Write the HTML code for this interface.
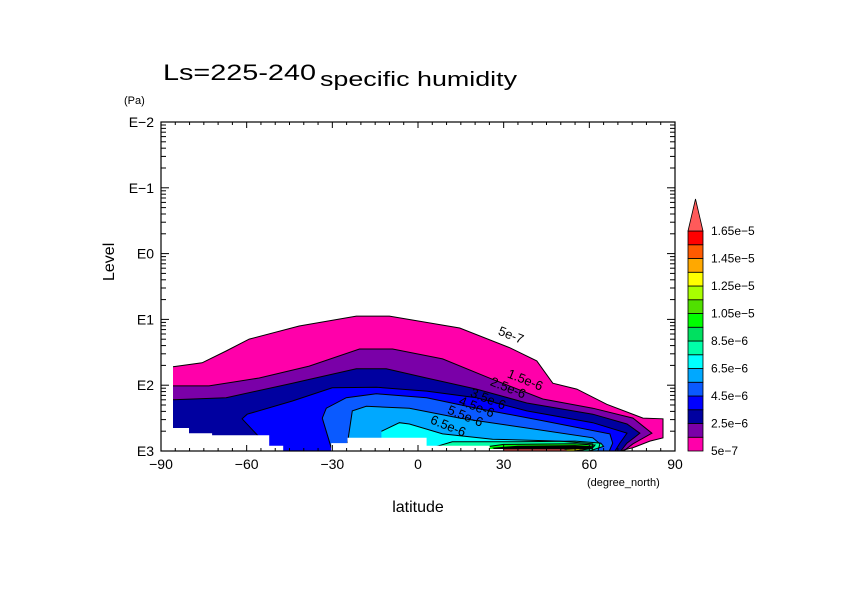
<!DOCTYPE html>
<html><head><meta charset="utf-8"><style>
html,body{margin:0;padding:0;background:#fff;}
svg{display:block;font-family:"Liberation Sans",sans-serif;}
</style></head><body>
<svg id="chart" width="842" height="595" viewBox="0 0 842 595" xmlns="http://www.w3.org/2000/svg">
<rect width="842" height="595" fill="#fff"/>
<text x="163" y="80" font-size="22" fill="#000" textLength="153" lengthAdjust="spacingAndGlyphs">Ls=225-240</text>
<text x="320" y="86" font-size="20" fill="#000" textLength="197" lengthAdjust="spacingAndGlyphs">specific humidity</text>
<text x="124" y="104" font-size="11" fill="#000">(Pa)</text>
<text x="114" y="281" font-size="16" fill="#000" transform="rotate(-90 114 281)">Level</text>
<text x="418" y="512" font-size="16" fill="#000" text-anchor="middle">latitude</text>
<text x="587" y="486" font-size="11" fill="#000">(degree_north)</text>
<g id="fills"></g>
<g id="lines"></g>
<g id="labels"></g>
<g id="axes"></g>
<g id="cbar"></g>
</svg>
<script>
const levels=["5e-7","1.5e-6","2.5e-6","3.5e-6","4.5e-6","5.5e-6","6.5e-6","7.5e-6","8.5e-6","9.5e-6","1.05e-5","1.15e-5","1.25e-5","1.35e-5","1.45e-5","1.55e-5","1.65e-5"];
const colors=["#ff00aa","#7a00a8","#0000a0","#0000ff","#0a5aff","#00a8ff","#00ffff","#00ffa8","#00e060","#00ff00","#50e000","#a8ff00","#ffff00","#ffa800","#ff5a00","#ff0000","#ff5a5a"];
const c0=[[-85.8,1.72],[-75.6,1.66],[-67.2,1.48],[-59.1,1.30],[-41.6,1.10],[-21.6,0.95],[-10,0.95],[14.6,1.13],[32.1,1.43],[41.6,1.63],[47.2,1.97],[55.6,2.06],[66.1,2.29],[78.8,2.50],[85.8,2.51],[85.8,2.80],[81.2,2.85],[75.3,2.95],[70.7,3.0]];
const c1=[[-85.8,2.01],[-73.2,2.01],[-55.6,1.89],[-38.1,1.71],[-20.5,1.45],[-8.9,1.45],[8.6,1.60],[26.1,1.91],[43.7,2.21],[61.2,2.35],[75.3,2.50],[81.9,2.73],[75.3,2.89],[72,3.0]];
const c2=[[-85.8,2.22],[-67.2,2.19],[-44.0,1.97],[-21.6,1.75],[-11.1,1.75],[3.0,1.89],[20.5,2.06],[38.1,2.27],[61.2,2.44],[73.2,2.59],[77.7,2.73],[73.2,2.88],[71,3.0]];
const c3=[[-52.1,2.95],[-61.6,2.51],[-59.8,2.44],[-44.0,2.24],[-30.0,2.04],[-14.6,2.03],[3.0,2.09],[20.5,2.19],[38.1,2.39],[61.2,2.57],[73.2,2.73],[70.7,2.88],[69,3.0]];
const c4=[[-30.4,2.95],[-33.5,2.50],[-32.1,2.35],[-25.1,2.19],[-14.6,2.13],[3.0,2.19],[20.5,2.35],[43.7,2.54],[67.2,2.74],[68.2,2.88],[67,3.0]];
const c5=[[-24.7,2.88],[-23.0,2.39],[-18.1,2.32],[-3.0,2.35],[14.6,2.50],[38.1,2.65],[61.2,2.80],[63.7,2.89],[63,3.0]];
const c6=[[-12.8,2.70],[-6.5,2.57],[-3.0,2.59],[8.6,2.74],[26.1,2.82],[49.6,2.85],[61.2,2.89],[61,3.0]];
const c7=[[5,2.95],[12,2.86],[35,2.86],[55,2.85],[64,2.88],[65,2.93],[60,3.0]];
const c9=[[20,2.96],[30,2.9],[55,2.89],[62,2.91],[61,2.96],[55,3.0]];
const c12=[[52,2.97],[56,2.93],[60,2.94],[58,2.98],[55,3.0]];
const c16=[[25,3.0],[27,2.975],[51,2.975],[53,3.0]];
const contours=[[0,c0],[1,c1],[2,c2],[3,c3],[4,c4],[5,c5],[6,c6],[7,c7],[9,c9],[12,c12]];
const ground=[[-90,2.65],[-80.2,2.65],[-80.2,2.73],[-72.1,2.73],[-72.1,2.76],[-52.1,2.76],[-52.1,2.92],[-47.2,2.92],[-47.2,3.0],[-30.4,3.0],[-30.4,2.88],[-24.7,2.88],[-24.7,2.80],[3.0,2.80],[3.0,2.92],[25.1,2.92],[25.1,2.97],[30,2.97],[30,3.0]];
const darkBand=[[26,2.95],[35,2.92],[55,2.91],[62,2.93],[60,2.97],[52,2.98],[27,2.98]];
const labelVals=[["5e-7",32,1.3],["1.5e-6",37,1.98],["2.5e-6",31,2.1],["3.5e-6",24,2.27],["4.5e-6",20,2.39],["5.5e-6",16,2.53],["6.5e-6",10,2.68]];
const xTicks=[-90,-60,-30,0,30,60,90];
const yTicks=[-2,-1,0,1,2,3];

const X0=161,X1=675,Y0=122,Y1=451;
const xs=lat=>X0+(lat+90)/180*(X1-X0);
const ys=e=>Y0+(e+2)/5*(Y1-Y0);
const NS="http://www.w3.org/2000/svg";
function mk(tag,attrs,parent){const el=document.createElementNS(NS,tag);for(const k in attrs)el.setAttribute(k,attrs[k]);parent.appendChild(el);return el;}
const fills=document.getElementById('fills'),lines=document.getElementById('lines'),labs=document.getElementById('labels'),axes=document.getElementById('axes'),cbar=document.getElementById('cbar');
const pathOf=pts=>pts.map((p,i)=>(i?'L':'M')+xs(p[0]).toFixed(1)+','+ys(p[1]).toFixed(1)).join('');
contours.forEach(([li,pts])=>{
  let d=pathOf(pts);
  const last=pts[pts.length-1],first=pts[0];
  const df=d+'L'+xs(last[0]).toFixed(1)+','+ys(3)+'L'+xs(first[0]).toFixed(1)+','+ys(3)+'Z';
  const f=mk('path',{d:df,fill:colors[li],stroke:'none'},fills);
  
  
  const l=mk('path',{d:d,fill:'none',stroke:'#000','stroke-width':1},lines);
  
  
});
{
  const b=mk('path',{d:pathOf(darkBand)+'Z',fill:'#000'},lines);
  
  
  const r=mk('path',{d:pathOf(c16)+'Z',fill:colors[16]},lines);
  
  
  let d=pathOf(ground)+'L'+xs(30)+','+(Y1+2)+'L'+xs(-90)+','+(Y1+2)+'Z';
  const g=mk('path',{d:d,fill:'#fff'},lines);
  
  
}
labelVals.forEach(([t,lat,e])=>{
  const x=xs(lat),y=ys(e);
  const tx=mk('text',{x:x,y:y,'font-size':13,fill:'#000','text-anchor':'middle',transform:`rotate(22 ${x} ${y})`},labs);
  tx.textContent=t;
  
  
});
const fr=mk('rect',{x:X0,y:Y0,width:X1-X0,height:Y1-Y0,fill:'none',stroke:'#000','stroke-width':1.2},axes);


for(let lat=-90;lat<=90;lat+=5){
  const x=xs(lat),len=(lat%30===0)?6:3;
  mk('line',{x1:x,y1:Y1,x2:x,y2:Y1-len,stroke:'#000'},axes);
  mk('line',{x1:x,y1:Y0,x2:x,y2:Y0+len,stroke:'#000'},axes);
}
xTicks.forEach(v=>{
  const t=mk('text',{x:xs(v),y:469,'font-size':14,'text-anchor':'middle',fill:'#000'},axes);
  t.textContent=v<0?'\u2212'+(-v):String(v);
  
  
});
for(let e=-2;e<3;e++){for(let m=2;m<=9;m++){
  const yy=ys(e+1-Math.log10(m));
  mk('line',{x1:X0,y1:yy,x2:X0+5,y2:yy,stroke:'#000'},axes);
  mk('line',{x1:X1,y1:yy,x2:X1-5,y2:yy,stroke:'#000'},axes);
}}
yTicks.forEach(v=>{
  const y=ys(v);
  mk('line',{x1:X0,y1:y,x2:X0+8,y2:y,stroke:'#000'},axes);
  mk('line',{x1:X1,y1:y,x2:X1-8,y2:y,stroke:'#000'},axes);
  const t=mk('text',{x:154,y:y+5,'font-size':14,'text-anchor':'end',fill:'#000'},axes);
  t.textContent='E'+(v<0?'\u2212'+(-v):v);
  
  
});
const CB0=231,CB1=451,cx=688,cw=15,bh=(CB1-CB0)/16;
for(let i=0;i<16;i++){
  const r=mk('rect',{x:cx,y:CB1-(i+1)*bh,width:cw,height:bh,fill:colors[i],stroke:'#000','stroke-width':0.8},cbar);
  
  
}
const tri=mk('polygon',{points:`${cx},${CB0} ${cx+cw},${CB0} ${cx+cw/2},${CB0-32}`,fill:colors[16],stroke:'#000','stroke-width':0.8},cbar);


for(let i=0;i<=16;i+=2){
  const t=mk('text',{x:711,y:CB1-i*bh+4,'font-size':12,fill:'#000'},cbar);
  t.textContent=levels[i].replace('-','\u2212');
  
  
}
</script>
</body></html>
